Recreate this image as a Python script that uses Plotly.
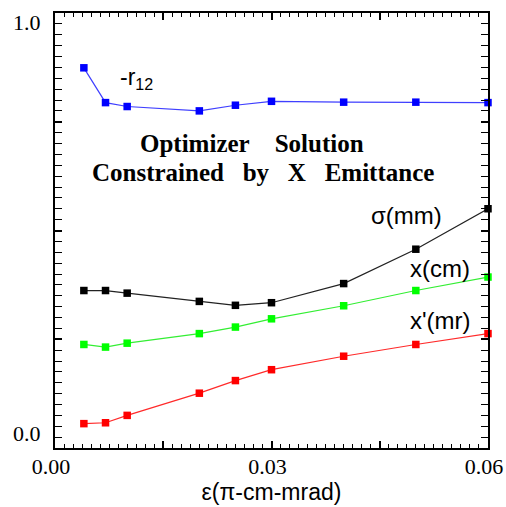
import plotly.graph_objects as go

# Data
emittance = [0.004, 0.007, 0.010, 0.020, 0.025, 0.030, 0.040, 0.050, 0.060]
neg_r12 = [0.874, 0.794, 0.785, 0.775, 0.788, 0.797, 0.795, 0.795, 0.794]
sigma_mm = [0.362, 0.362, 0.356, 0.337, 0.328, 0.334, 0.378, 0.457, 0.550]
x_cm = [0.238, 0.232, 0.241, 0.263, 0.278, 0.297, 0.327, 0.362, 0.393]
xp_mr = [0.056, 0.058, 0.075, 0.126, 0.155, 0.180, 0.211, 0.238, 0.263]

x_label_vals = [0.0, 0.03, 0.06]
x_label_text = ["0.00", "0.03", "0.06"]
y_labels = ["0.0", "1.0"]

series = [
    (neg_r12, "-r12", "#0000ff", "#3f3fff"),
    (sigma_mm, "σ(mm)", "#000000", "#222222"),
    (x_cm, "x(cm)", "#00ff00", "#33ee33"),
    (xp_mr, "x'(mr)", "#ff0000", "#ff2a2a"),
]

fig = go.Figure()
for vals, name, mcol, lcol in series:
    fig.add_trace(go.Scatter(
        x=emittance, y=vals, name=name, mode="lines+markers",
        line=dict(color=lcol, width=1.2),
        marker=dict(symbol="square", size=7.5, color=mcol, line=dict(width=0)),
        cliponaxis=False, showlegend=False,
    ))
# invisible carrier trace for the label axis
fig.add_trace(go.Scatter(x=emittance, y=neg_r12, xaxis="x2", mode="none",
                         showlegend=False, hoverinfo="skip"))

serif = "Liberation Serif, Times New Roman, serif"
sans = "Liberation Sans, Arial, Helvetica, sans-serif"

fig.update_layout(
    width=506, height=507,
    margin=dict(l=55, r=18, t=13, b=59, autoexpand=False),
    paper_bgcolor="white", plot_bgcolor="white",
    xaxis=dict(
        range=[0, 0.06], dtick=0.015, tick0=0,
        ticks="inside", ticklen=7, tickwidth=2, tickcolor="black",
        showline=True, linecolor="black", linewidth=2, mirror="allticks",
        showgrid=False, zeroline=False, showticklabels=False,
        minor=dict(dtick=0.00125, tick0=0, ticks="inside", ticklen=4,
                   tickwidth=1, tickcolor="black", showgrid=False),
        title=dict(text="ε(π-cm-mrad)", font=dict(family=sans, size=23, color="black"),
                   standoff=35),
    ),
    xaxis2=dict(
        overlaying="x", matches="x", side="bottom", range=[0, 0.06],
        tickvals=x_label_vals, ticktext=x_label_text, ticks="",
        showline=False, showgrid=False, zeroline=False,
        tickfont=dict(family=serif, size=22, color="black"),
        ticklabelshift=-4, ticklabelstandoff=3,
    ),
    yaxis=dict(
        range=[0, 1], dtick=0.25, tick0=0,
        ticks="inside", ticklen=7, tickwidth=2, tickcolor="black",
        showline=True, linecolor="black", linewidth=2, mirror="allticks",
        showgrid=False, zeroline=False, showticklabels=False,
        minor=dict(dtick=0.025, tick0=0, ticks="inside", ticklen=4,
                   tickwidth=1, tickcolor="black", showgrid=False),
    ),
)

ann = []
# y axis end labels (offset inward as in the reference)
ann.append(dict(x=-0.028, xref="paper", y=0.034, yref="y", text=y_labels[0],
                xanchor="right", yanchor="middle", showarrow=False,
                font=dict(family=serif, size=22, color="black")))
ann.append(dict(x=-0.028, xref="paper", y=0.979, yref="y", text=y_labels[1],
                xanchor="right", yanchor="middle", showarrow=False,
                font=dict(family=serif, size=22, color="black")))
# series labels
ann.append(dict(x=0.0087, y=0.85, text="-r<sub>12</sub>", xanchor="left", yanchor="middle",
                showarrow=False, font=dict(family=sans, size=23, color="black")))
ann.append(dict(x=0.0435, y=0.535, text="σ(mm)", xanchor="left", yanchor="middle",
                showarrow=False, font=dict(family=sans, size=24, color="black")))
ann.append(dict(x=0.0489, y=0.413, text="x(cm)", xanchor="left", yanchor="middle",
                showarrow=False, font=dict(family=sans, size=24, color="black")))
ann.append(dict(x=0.0489, y=0.2936, text="x'(mr)", xanchor="left", yanchor="middle",
                showarrow=False, font=dict(family=sans, size=24, color="black")))
# in-plot title
nb3 = "\u00a0\u00a0\u00a0"
nb4 = "\u00a0\u00a0\u00a0\u00a0"
ann.append(dict(x=0.455, xref="paper", y=0.70, yref="y",
                text="<b>Optimizer" + nb4 + "Solution</b>", xanchor="center", yanchor="middle",
                showarrow=False, font=dict(family=serif, size=25, color="black")))
ann.append(dict(x=0.480, xref="paper", y=0.633, yref="y",
                text="<b>Constrained" + nb3 + "by" + nb3 + "X" + nb3 + "Emittance</b>",
                xanchor="center", yanchor="middle",
                showarrow=False, font=dict(family=serif, size=25, color="black")))
fig.update_layout(annotations=ann)

fig.write_html("out.html", config={"displayModeBar": False},
               post_script="document.body.style.margin='0px';")
